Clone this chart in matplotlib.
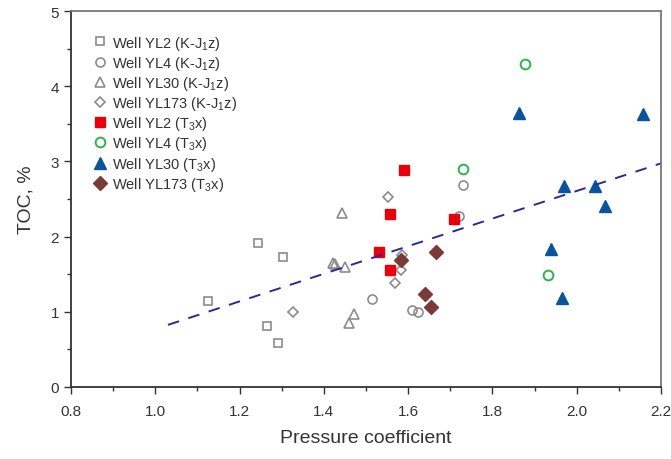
import matplotlib
matplotlib.use("Agg")
import matplotlib.pyplot as plt
import numpy as np

plt.rcParams['font.family'] = ['Liberation Sans', 'DejaVu Sans']
plt.rcParams['mathtext.fontset'] = 'custom'
plt.rcParams['mathtext.rm'] = 'Liberation Sans'
plt.rcParams['mathtext.it'] = 'Liberation Sans'
plt.rcParams['mathtext.default'] = 'rm'

# Data
yl2_k_x = [1.243, 1.302, 1.126, 1.264, 1.291]
yl2_k_y = [1.92, 1.73, 1.15, 0.81, 0.59]
yl4_k_x = [1.731, 1.720, 1.515, 1.609, 1.623]
yl4_k_y = [2.69, 2.28, 1.17, 1.03, 1.00]
yl30_k_x = [1.443, 1.421, 1.426, 1.449, 1.472, 1.459]
yl30_k_y = [2.32, 1.65, 1.63, 1.60, 0.97, 0.85]
yl173_k_x = [1.326, 1.553, 1.585, 1.582, 1.568]
yl173_k_y = [1.00, 2.52, 1.76, 1.55, 1.38]
yl2_t_x = [1.589, 1.558, 1.709, 1.531, 1.558]
yl2_t_y = [2.88, 2.30, 2.23, 1.80, 1.56]
yl4_t_x = [1.878, 1.731, 1.932]
yl4_t_y = [4.30, 2.90, 1.49]
yl30_t_x = [1.864, 2.158, 1.969, 2.044, 2.066, 1.938, 1.965]
yl30_t_y = [3.65, 3.63, 2.67, 2.67, 2.41, 1.84, 1.18]
yl173_t_x = [1.582, 1.667, 1.639, 1.655]
yl173_t_y = [1.69, 1.80, 1.24, 1.07]

trend_slope = 1.836
trend_intercept = -1.065
trend_x = [1.03, 2.2]

fig = plt.figure(figsize=(6.71, 4.60), dpi=100)
ax = fig.add_axes([71/671, 1 - 388/460, (661 - 71)/671, (388 - 12)/460])

gray = '#8c8c8c'
ms = 6
ax.plot(yl2_k_x, yl2_k_y, 's', mfc='none', mec=gray, mew=1.2, ms=ms, label='Well YL2 (K-J$_1$z)')
ax.plot(yl4_k_x, yl4_k_y, 'o', mfc='none', mec=gray, mew=1.2, ms=ms+0.5, label='Well YL4 (K-J$_1$z)')
ax.plot(yl30_k_x, yl30_k_y, '^', mfc='none', mec=gray, mew=1.2, ms=ms+1.5, label='Well YL30 (K-J$_1$z)')
ax.plot(yl173_k_x, yl173_k_y, 'D', mfc='none', mec=gray, mew=1.2, ms=ms-0.5, label='Well YL173 (K-J$_1$z)')
ax.plot(yl2_t_x, yl2_t_y, 's', color='#e8000d', mec='#e8000d', ms=ms+0.5, label='Well YL2 (T$_3$x)')
ax.plot(yl4_t_x, yl4_t_y, 'o', mfc='none', mec='#2db34a', mew=1.4, ms=ms+1, label='Well YL4 (T$_3$x)')
ax.plot(yl30_t_x, yl30_t_y, '^', color='#0a5499', ms=ms+2.5, label='Well YL30 (T$_3$x)')
ax.plot(yl173_t_x, yl173_t_y, 'D', color='#7a3b38', ms=ms+1, label='Well YL173 (T$_3$x)')

tx = np.array(trend_x)
ax.plot(tx, trend_slope * tx + trend_intercept, '--', color='#2b2a94', lw=1.4, dashes=(6, 5))

ax.set_xlim(0.8, 2.2)
ax.set_ylim(0, 5)
ax.set_xticks(np.arange(0.8, 2.21, 0.2))
ax.set_xticklabels(['0.8', '1.0', '1.2', '1.4', '1.6', '1.8', '2.0', '2.2'])
ax.set_xticks(np.arange(0.9, 2.2, 0.2), minor=True)
ax.set_yticks([0, 1, 2, 3, 4, 5])
ax.set_yticks([0.5, 1.5, 2.5, 3.5, 4.5], minor=True)

for s in ['left', 'bottom']:
    ax.spines[s].set_color('#333333')
    ax.spines[s].set_linewidth(1.3)
for s in ['top', 'right']:
    ax.spines[s].set_color('#777777')
    ax.spines[s].set_linewidth(1.3)

ax.tick_params(axis='both', which='both', direction='out', color='#333333', labelcolor='#333333', labelsize=11)
ax.tick_params(which='major', length=5, width=1)
ax.tick_params(which='minor', length=3, width=1)
ax.tick_params(axis='x', pad=7)

ax.set_xlabel('Pressure coefficient', fontsize=14, color='#333333', labelpad=8)
ax.set_ylabel('TOC, %', fontsize=14, color='#333333', labelpad=12)

leg = ax.legend(loc='upper left', bbox_to_anchor=(0.012, 0.975), frameon=False, fontsize=10.5,
                handletextpad=0.2, labelspacing=0.15, handlelength=1.2, labelcolor='#333333')

fig.savefig('out.png', dpi=100)
